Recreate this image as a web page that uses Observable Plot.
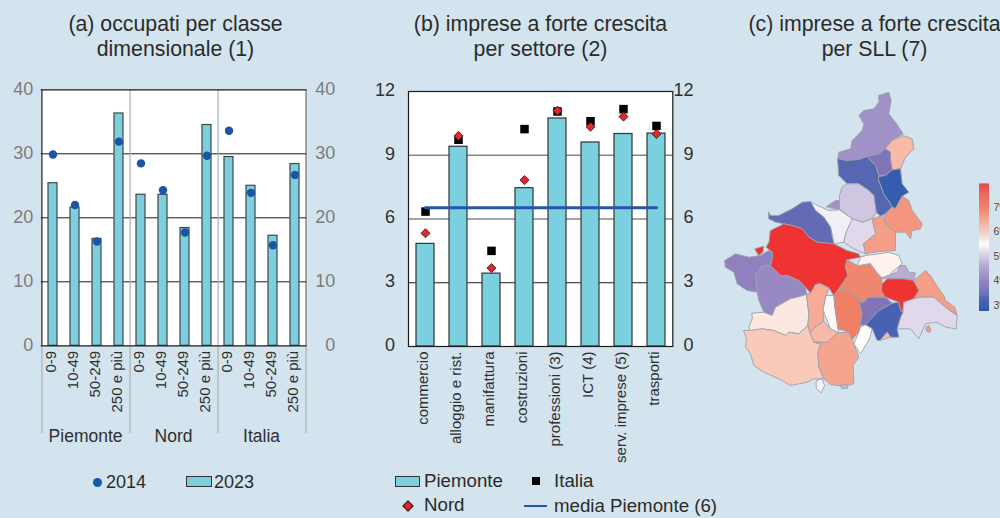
<!DOCTYPE html>
<html lang="it">
<head>
<meta charset="utf-8">
<script src="https://cdn.jsdelivr.net/npm/d3@7"></script>
<script src="https://cdn.jsdelivr.net/npm/@observablehq/plot@0.6"></script>
<style>
  html, body { margin: 0; padding: 0; background: #d3e4ee; overflow: hidden; }
  #page { position: relative; width: 1000px; height: 518px; overflow: hidden; background: #d3e4ee;
          font-family: "Liberation Sans", Arial, sans-serif; color: #2b2b2b; }
  .box { position: absolute; }
  .box svg { display: block; overflow: visible; max-width: none; background: transparent; }
  .title { position: absolute; text-align: center; font-size: 21.3px; line-height: 25px; white-space: nowrap; transform: translateX(-50%); }
  .lg { position: absolute; font-size: 18px; line-height: 20px; white-space: nowrap; }
  .sw { position: absolute; box-sizing: border-box; }
</style>
</head>
<body>
<div id="page"></div>
<script>
// ---------- Panel (a) ----------
const sizeGroups = ["Piemonte", "Nord", "Italia"];
const sizeClasses = ["0-9", "10-49", "50-249", "250 e più"];
const occ2023 = [25.4, 21.6, 16.7, 36.3, 23.6, 23.6, 18.4, 34.5, 29.5, 25.0, 17.2, 28.4];
const occ2014 = [29.9, 22.0, 16.3, 31.9, 28.5, 24.3, 17.7, 29.7, 33.6, 23.9, 15.7, 26.7];
const occTicks = [0, 10, 20, 30, 40];

// ---------- Panel (b) ----------
const sectors = ["commercio", "alloggio e rist.", "manifattura", "costruzioni", "professioni (3)", "ICT (4)", "serv. imprese (5)", "trasporti"];
const piemonte = [4.83, 9.4, 3.43, 7.45, 10.73, 9.6, 10.0, 10.02];
const nord = [5.33, 9.91, 3.69, 7.83, 11.1, 10.34, 10.82, 10.0];
const italia = [6.35, 9.73, 4.5, 10.23, 11.06, 10.6, 11.17, 10.38];
const mediaPiemonte = 6.53;
const sectorTicks = [0, 3, 6, 9, 12];

// ---------- Panel (c): SLL shapes (map units) and values ----------
const sllShapes = [
  [[490,45],[520,35],[527,60],[520,100],[540,125],[563,160],[530,180],[510,205],[490,220],[455,228],[430,237],[395,240],[367,235],[370,215],[405,205],[410,180],[440,150],[445,130],[430,105],[445,90],[475,85],[490,65]],
  [[530,180],[563,165],[590,175],[595,205],[570,230],[555,265],[530,268],[525,235],[525,215],[510,205]],
  [[510,205],[525,215],[525,235],[530,268],[510,285],[490,285],[480,255],[455,228],[490,220]],
  [[367,235],[395,240],[430,237],[455,228],[480,255],[490,285],[490,300],[505,340],[525,370],[530,380],[510,400],[495,407],[482,395],[475,345],[460,330],[430,310],[395,310],[370,285]],
  [[490,288],[510,285],[530,268],[555,265],[560,310],[580,335],[560,347],[540,385],[530,380],[525,370],[505,340],[490,300]],
  [[395,310],[430,310],[460,330],[475,345],[482,395],[470,415],[440,425],[410,415],[372,385],[372,345],[380,320]],
  [[333,378],[360,360],[370,360],[372,388]],
  [[510,400],[530,380],[540,385],[560,347],[580,360],[590,390],[620,430],[615,445],[590,450],[585,475],[570,455],[540,455],[510,430],[505,410]],
  [[470,415],[495,407],[505,410],[510,430],[540,455],[540,510],[490,513],[450,520],[443,490],[480,460],[475,440]],
  [[410,415],[440,425],[470,415],[475,440],[480,460],[443,490],[450,520],[415,505],[385,485],[390,460]],
  [[285,363],[300,372],[340,390],[372,388],[410,415],[390,460],[385,485],[355,490],[345,440],[325,410],[300,390]],
  [[160,395],[165,405],[190,405],[230,385],[260,365],[285,363],[300,390],[325,410],[345,440],[355,490],[305,485],[280,470],[260,445],[230,435],[205,430],[180,425],[160,415]],
  [[165,450],[205,430],[230,435],[260,445],[280,470],[305,485],[355,490],[395,510],[430,520],[435,530],[395,538],[390,560],[397,585],[380,610],[365,632],[355,645],[340,622],[315,610],[300,612],[285,638],[270,620],[250,600],[215,585],[195,585],[165,555],[170,535],[170,515],[152,500],[160,485]],
  [[118,505],[145,497],[142,515],[130,525]],
  [[28,540],[60,520],[100,530],[135,525],[160,510],[170,515],[170,535],[165,555],[140,557],[120,585],[125,635],[95,630],[65,610],[55,575],[30,560]],
  [[140,557],[165,555],[195,585],[215,585],[250,600],[270,620],[273,642],[245,650],[225,655],[180,680],[170,705],[145,695],[130,660],[125,635],[120,585]],
  [[110,698],[145,695],[170,705],[180,680],[225,655],[245,650],[273,642],[280,700],[277,735],[250,760],[220,755],[210,765],[175,750],[140,745],[105,750],[100,740],[110,715]],
  [[85,750],[105,750],[140,745],[175,750],[210,765],[220,755],[250,760],[277,735],[285,760],[295,785],[315,790],[307,815],[310,860],[325,895],[295,895],[275,905],[225,915],[190,895],[145,875],[115,855],[105,820],[90,800],[93,775]],
  [[285,638],[300,612],[315,610],[340,622],[332,645],[323,690],[325,722],[293,745],[285,760],[277,735],[280,700],[273,642]],
  [[332,645],[355,645],[358,680],[368,745],[368,757],[345,745],[323,690]],
  [[293,745],[325,722],[345,745],[368,757],[335,785],[295,785],[285,760]],
  [[335,785],[368,757],[400,755],[410,778],[415,790],[430,830],[413,855],[415,910],[385,918],[345,912],[325,895],[310,860],[307,815],[315,790],[295,785]],
  [[375,913],[395,913],[397,923],[380,925]],
  [[303,900],[320,895],[327,915],[317,937],[303,925]],
  [[365,632],[400,628],[428,650],[440,700],[433,735],[435,740],[430,755],[410,778],[400,755],[368,745],[358,680],[355,645]],
  [[395,538],[425,555],[465,550],[483,575],[500,592],[498,630],[510,650],[460,650],[440,668],[428,650],[400,628],[365,632],[380,610],[397,585],[390,560]],
  [[425,555],[435,530],[450,525],[490,520],[520,515],[550,525],[560,550],[535,570],[520,585],[500,592],[483,575],[465,550]],
  [[500,592],[520,585],[545,575],[553,555],[570,555],[580,575],[600,577],[595,600],[565,595],[515,595]],
  [[498,630],[500,610],[515,595],[565,595],[595,600],[610,630],[595,655],[565,665],[562,695],[555,690],[550,665],[510,650]],
  [[595,600],[630,570],[645,585],[670,625],[685,645],[690,660],[718,680],[725,705],[695,685],[655,650],[615,650],[595,655],[610,630]],
  [[565,665],[595,655],[615,650],[655,650],[695,685],[725,705],[722,745],[690,740],[665,725],[630,730],[610,775],[585,745],[545,745],[555,710],[562,695]],
  [[632,740],[640,735],[647,750],[640,757],[632,750]],
  [[440,668],[460,650],[510,650],[530,668],[490,690],[450,733],[433,735],[440,700],[428,650]],
  [[450,733],[490,690],[530,668],[550,665],[555,690],[562,695],[555,710],[545,745],[550,770],[525,770],[515,755],[495,780],[485,780],[470,745]],
  [[495,778],[515,755],[525,770],[500,778]],
  [[435,740],[450,733],[470,745],[462,775],[435,820],[415,790],[430,755]]
];
const sllValues = [4.3, 6.2, 3.9, 3.3, 2.85, 4.9, 4.3, 6.7, 6.6, 5.1, 5.3, 3.5, 7.9, 7.9, 4.1, 4.2, 5.7, 6.0, 6.4, 5.55, 6.2, 6.5, 4.7, 5.35, 7.0, 6.9, 5.6, 4.6, 7.9, 6.6, 5.1, 6.6, 3.9, 3.1, 6.2, 5.45];
const rampDomain = [2.75, 4, 5, 5.47, 6, 7, 7.94];
const rampColors = ["#2e5aac", "#8877b9", "#d9cfe6", "#ffffff", "#f9c9b9", "#f07f66", "#ee3030"];
const rampTicks = [3, 4, 5, 6, 7];

// ---------- Colours ----------
const barFill = "#7ad0de", dark = "#2f2f2f", blue = "#1a55a8", font = "Liberation Sans";

const page = document.getElementById("page");
function place(svg, left, top) {
  const d = document.createElement("div");
  d.className = "box"; d.style.left = left + "px"; d.style.top = top + "px";
  d.appendChild(svg); page.appendChild(d);
}
function html(cls, css, text) {
  const d = document.createElement("div");
  d.className = cls; d.style.cssText = css;
  if (text != null) d.innerHTML = text;
  page.appendChild(d);
  return d;
}

// ---------- Panel (a) ----------
const keyOf = (g, c) => g + "|" + c;
const occKeys = sizeGroups.flatMap(g => sizeClasses.map(c => keyOf(g, c)));
const occRows = occKeys.map((key, i) => ({key, v2023: occ2023[i], v2014: occ2014[i]}));
const aWidth = 350, aLeftM = 40.7, aRightM = 43.3;
const aStep = (aWidth - aLeftM - aRightM) / occKeys.length;

place(Plot.plot({
  width: aWidth, height: 380,
  marginLeft: aLeftM, marginRight: aRightM, marginTop: 19.3, marginBottom: 104.7,
  style: {background: "transparent", fontFamily: font},
  x: {domain: occKeys, paddingInner: 0.58, paddingOuter: 0.29},
  y: {domain: [0, 40]},
  marks: [
    Plot.frame({fill: "white", stroke: null}),
    Plot.ruleY([10, 20, 30], {stroke: "#1b1b1b", strokeWidth: 1}),
    Plot.ruleX(sizeGroups.slice(0, 2).map(g => keyOf(g, sizeClasses[3])), {y1: () => -13.7, y2: () => 40, dx: aStep / 2, stroke: "#aab0b5", strokeWidth: 1.2}),
    Plot.ruleX([keyOf("Piemonte", "0-9")], {y1: () => -13.7, y2: () => 0, dx: -aStep / 2, stroke: "#aab0b5", strokeWidth: 1.2}),
    Plot.ruleX([keyOf("Italia", "250 e più")], {y1: () => -13.7, y2: () => 0, dx: aStep / 2, stroke: "#aab0b5", strokeWidth: 1.2}),
    Plot.barY(occRows, {x: "key", y: "v2023", fill: barFill, stroke: "#444", strokeWidth: 1.2}),
    Plot.dot(occRows, {x: "key", y: "v2014", r: 4.2, fill: blue, stroke: null}),
    Plot.ruleY([0, 40], {stroke: "#1b1b1b", strokeWidth: 1.2}),
    Plot.ruleX([keyOf("Piemonte", "0-9")], {y1: () => 0, y2: () => 40, dx: -aStep / 2, stroke: "#1b1b1b", strokeWidth: 1.2}),
    Plot.ruleX([keyOf("Italia", "250 e più")], {y1: () => 0, y2: () => 40, dx: aStep / 2, stroke: "#666", strokeWidth: 1.2}),
    Plot.axisY({anchor: "left", ticks: occTicks, tickSize: 0, tickPadding: 8, fontSize: 18, color: "#7c7c7c", label: null, dy: -0.5}),
    Plot.axisY({anchor: "right", ticks: occTicks, tickSize: 0, tickPadding: 28, textAnchor: "end", fontSize: 18, color: "#7c7c7c", label: null, dy: -0.5}),
    Plot.axisX({tickSize: 0, tickPadding: 5, tickRotate: -90, dx: -2, fontSize: 15, color: dark, label: null, tickFormat: k => k.split("|")[1]}),
    Plot.text(sizeGroups, {x: g => keyOf(g, sizeClasses[1]), y: () => -14.1, dx: aStep / 2 - 0.5, text: d => d, fontSize: 17.5, fill: dark})
  ]
}), 0, 70);

// ---------- Panel (b) ----------
const sectorRows = sectors.map((s, i) => ({s, piemonte: piemonte[i], nord: nord[i], italia: italia[i]}));

place(Plot.plot({
  width: 360, height: 400,
  marginLeft: 48, marginRight: 47.7, marginTop: 21, marginBottom: 124,
  style: {background: "transparent", fontFamily: font},
  x: {domain: sectors, paddingInner: 0.465, paddingOuter: 0.2325},
  y: {domain: [0, 12]},
  marks: [
    Plot.frame({fill: "white", stroke: null}),
    Plot.ruleY([6, 9], {stroke: "#858585", strokeWidth: 1.4}),
    Plot.ruleY([3], {stroke: "#1b1b1b", strokeWidth: 1}),
    Plot.barY(sectorRows, {x: "s", y: "piemonte", fill: barFill, stroke: "#333", strokeWidth: 1.2}),
    Plot.dot(sectorRows, {x: "s", y: "italia", symbol: "square", r: 4.8, fill: "black", stroke: null}),
    Plot.dot(sectorRows, {x: "s", y: "nord", symbol: "diamond2", r: 4.1, fill: "#e8262a", stroke: "#1b1b1b", strokeWidth: 0.8}),
    Plot.lineY(sectorRows, {x: "s", y: () => mediaPiemonte, stroke: "#2855a8", strokeWidth: 2.8}),
    Plot.frame({stroke: "#1b1b1b", strokeWidth: 1.2}),
    Plot.axisY({anchor: "left", ticks: sectorTicks, tickSize: 0, tickPadding: 13.5, fontSize: 18, color: dark, label: null, dy: -1.5}),
    Plot.axisY({anchor: "right", ticks: sectorTicks, tickSize: 0, tickPadding: 20.7, textAnchor: "end", fontSize: 18, color: dark, label: null, dy: -1.5}),
    Plot.axisX({tickSize: 0, tickPadding: 5, tickRotate: -90, dx: -2, fontSize: 15, color: dark, label: null})
  ]
}), 360, 70);

// ---------- Panel (c) ----------
const colorScale = {type: "linear", domain: rampDomain, range: rampColors};
const sllFeatures = sllShapes.map((ring, i) => ({
  type: "Feature",
  properties: {v: sllValues[i]},
  geometry: {type: "Polygon", coordinates: [[...ring, ring[0]]]}
}));

place(Plot.plot({
  width: 285, height: 320, margin: 0,
  style: {background: "transparent", fontFamily: font},
  projection: d3.geoIdentity().scale(1 / 3),
  color: colorScale,
  marks: [
    Plot.geo(sllFeatures, {fill: d => d.properties.v, stroke: "#9aa3ad", strokeWidth: 0.9, strokeLinejoin: "round"})
  ]
}), 715, 80);

const rampSteps = d3.range(rampDomain[0], rampDomain[rampDomain.length - 1], 0.04);
place(Plot.plot({
  width: 60, height: 150,
  marginLeft: 19, marginRight: 31, marginTop: 14, marginBottom: 9,
  style: {background: "transparent", fontFamily: font},
  x: {domain: [0, 1], axis: null},
  y: {domain: [2.75, 7.94], axis: null},
  color: colorScale,
  marks: [
    Plot.rect(rampSteps, {x1: () => 0, x2: () => 1, y1: d => d, y2: d => d + 0.05, fill: d => d}),
    Plot.text(rampTicks, {x: () => 1, y: d => d, dx: 4, text: d => d + "%", textAnchor: "start", fontSize: 10.5, fill: "#444", stroke: "#e6e6e6", strokeWidth: 1.5})
  ]
}), 960, 170);

// ---------- Titles ----------
html("title", "left:175.5px;top:12px", "(a) occupati per classe<br>dimensionale (1)");
html("title", "left:540.5px;top:12px", "(b) imprese a forte crescita<br>per settore (2)");
html("title", "left:874.5px;top:12px", "(c) imprese a forte crescita<br>per SLL (7)");

// ---------- Legend (a) ----------
html("sw", `left:92.5px;top:477.5px;width:9px;height:9px;border-radius:50%;background:${blue}`);
html("lg", "left:106px;top:472px", "2014");
html("sw", `left:186px;top:476px;width:25.5px;height:11px;background:${barFill};border:1.2px solid #333`);
html("lg", "left:214px;top:472px", "2023");

// ---------- Legend (b) ----------
const lgB = "font-size:18.7px;";
html("sw", `left:395px;top:476px;width:25px;height:11px;background:${barFill};border:1.2px solid #333`);
html("lg", lgB + "left:424px;top:471px", "Piemonte");
html("sw", "left:532px;top:477px;width:7.5px;height:7.5px;background:black");
html("lg", lgB + "left:554px;top:471px", "Italia");
html("sw", "left:404px;top:501.5px;width:8px;height:8px;background:#e8262a;border:0.9px solid #1b1b1b;transform:rotate(45deg)");
html("lg", lgB + "left:424px;top:495px", "Nord");
html("sw", "left:524px;top:504.5px;width:23px;height:2.2px;background:#2855a8");
html("lg", lgB + "left:554px;top:495.5px", "media Piemonte (6)");
</script>
</body>
</html>
